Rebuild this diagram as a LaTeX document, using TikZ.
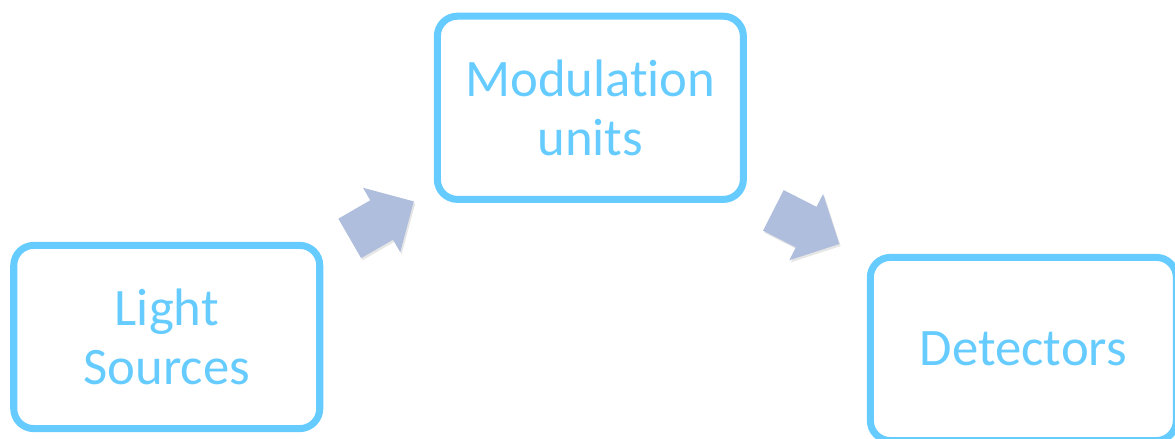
\documentclass[tikz,border=0pt]{standalone}
\usepackage{fontspec}
\setmainfont{Carlito}[Ligatures=NoCommon]
\usetikzlibrary{positioning,shapes.arrows,shadows}
\definecolor{boxblue}{HTML}{66CCFF}
\definecolor{arrowgrey}{HTML}{AFBEDC}

\begin{document}
\begin{tikzpicture}[every node/.style={outer sep=0pt},
    stage/.style={draw=boxblue,line width=5pt,rounded corners=0.5cm,fill=white,
    text=boxblue,align=center,font=\fontsize{37.5}{42}\selectfont,
    minimum width=7.65cm,minimum height=4.58cm,
    drop shadow={shadow xshift=1pt,shadow yshift=-1.5pt,opacity=0.2}},
    flow/.style={single arrow,fill=arrowgrey,draw=none,inner xsep=0pt,
    inner ysep=0.5625cm,minimum height=1.85cm,single arrow head extend=0.36cm,
    anchor=tail,drop shadow={shadow xshift=1pt,shadow yshift=-1.5pt,opacity=0.2}}]

   \useasboundingbox (-4.169,-2.55) rectangle (25.206,8.425);

     \node[stage] (ls) {Light\\Sources};
     \node[stage,above right=1.15cm and 2.94cm of ls] (mu) {Modulation\\units};
     \node[stage,below right=1.45cm and 3.175cm of mu] (det) {Detectors};

     \node[flow,rotate=30] (f1) at ([shift={(0.75,0.175)}]ls.north east) {};
     \node[flow,rotate=-27] (f2) at ([shift={(0.75,-0.275)}]mu.south east) {};
   \end{tikzpicture}
\end{document}
